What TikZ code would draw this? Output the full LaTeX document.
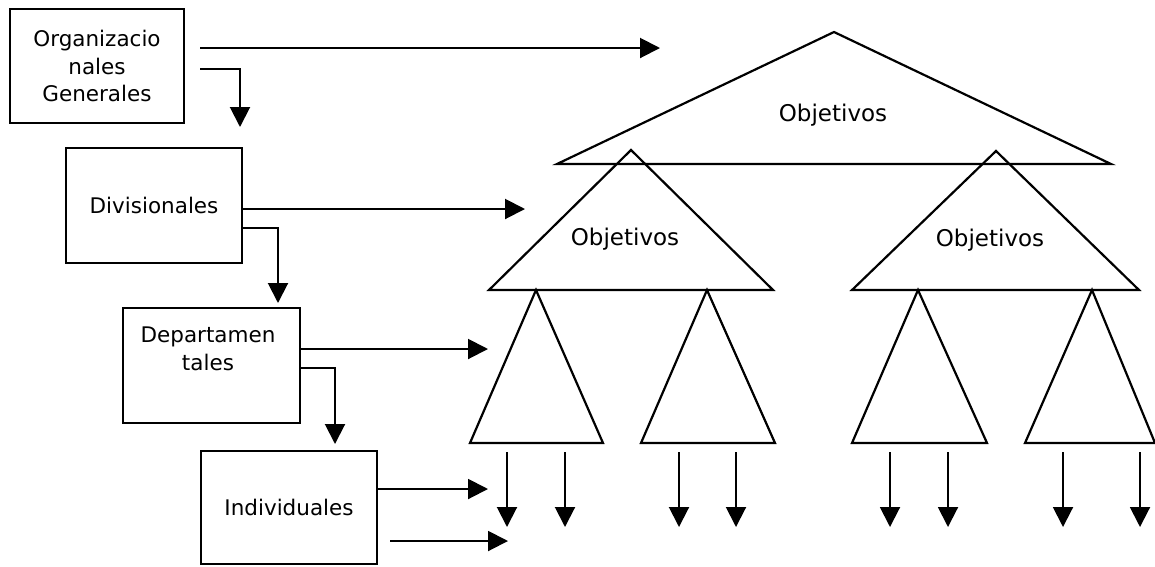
\documentclass[tikz,border=0pt]{standalone}
\usepackage{fontspec}
\setmainfont{DejaVu Sans}
\usetikzlibrary{arrows.meta,calc}
\begin{document}
\begin{tikzpicture}[x=1pt,y=-1pt,
  lbl/.style={font=\fontsize{21.5pt}{27.5pt}\selectfont,align=center,inner sep=0pt,outer sep=0pt},
  objlbl/.style={font=\fontsize{23pt}{27.5pt}\selectfont,inner sep=0pt},
  box/.style={draw,line width=2.2pt,inner sep=0pt,outer sep=0pt,lbl},
  arr/.style={line width=2pt,-{Triangle[length=20pt,width=20pt]}},
  tri/.style={draw,line width=2.2pt,line join=miter}]
\useasboundingbox (0,0) rectangle (1155,566);

% boxes
\node[box,minimum width=174pt,minimum height=114pt] (org) at (97,66) {Organizacio\\nales\\Generales};
\node[box,minimum width=176pt,minimum height=115pt] (div) at (154,205.5) {Divisionales};
\node[box,minimum width=177pt,minimum height=115pt] (dep) at (211.5,365.5) {};
\node[lbl] (deptxt) at (208,349) {Departamen\\tales};
\node[box,minimum width=176pt,minimum height=113pt] (ind) at (289,507.5) {Individuales};

% triangles
\draw[tri] (557,164) -- (834,32) -- (1111,164) -- cycle;
\draw[tri] (489,290) -- (631,150) -- (773,290) -- cycle;
\draw[tri] (852,290) -- (996,151) -- (1139,290) -- cycle;
\draw[tri] (470,443) -- (536,290) -- (603,443) -- cycle;
\draw[tri] (641,443) -- (707,290) -- (775,443) -- cycle;
\draw[tri] (852,443) -- (918,290) -- (987,443) -- cycle;
\draw[tri] (1025,443) -- (1092,290) -- (1155,443) -- cycle;
\node[objlbl] (obj0) at (833,115) {Objetivos};
\node[objlbl] (obj1) at (625,239) {Objetivos};
\node[objlbl] (obj2) at (990,240) {Objetivos};

% arrow end points
\coordinate (e1) at (660,48);
\coordinate (e1b) at (240,127);
\coordinate (e2) at (525,209);
\coordinate (e2b) at (278,303);
\coordinate (e3) at (488,349);
\coordinate (e3b) at (335,444);
\coordinate (e4) at (488,489);
\coordinate (s5) at (390,541);
\coordinate (e5) at (508,541);

\draw[arr] ($(org.north east)+(16,39)$) -- (e1);
\draw[arr] ($(org.north east)+(16,60)$) -| (e1b);
\draw[arr] ($(div.north east)+(0,61)$) -- (e2);
\draw[arr] ($(div.north east)+(0,80)$) -| (e2b);
\draw[arr] ($(dep.north east)+(0,41)$) -- (e3);
\draw[arr] ($(dep.north east)+(0,60)$) -| (e3b);
\draw[arr] ($(ind.north east)+(0,38)$) -- (e4);
\draw[arr] (s5) -- (e5);

% downward arrows
\foreach \x [count=\i] in {507,565,679,736,890,948,1063,1140} {
  \coordinate (ds\i) at (\x,452);
  \coordinate (de\i) at (\x,527);
  \draw[arr] (ds\i) -- (de\i);
}
\end{tikzpicture}
\end{document}
